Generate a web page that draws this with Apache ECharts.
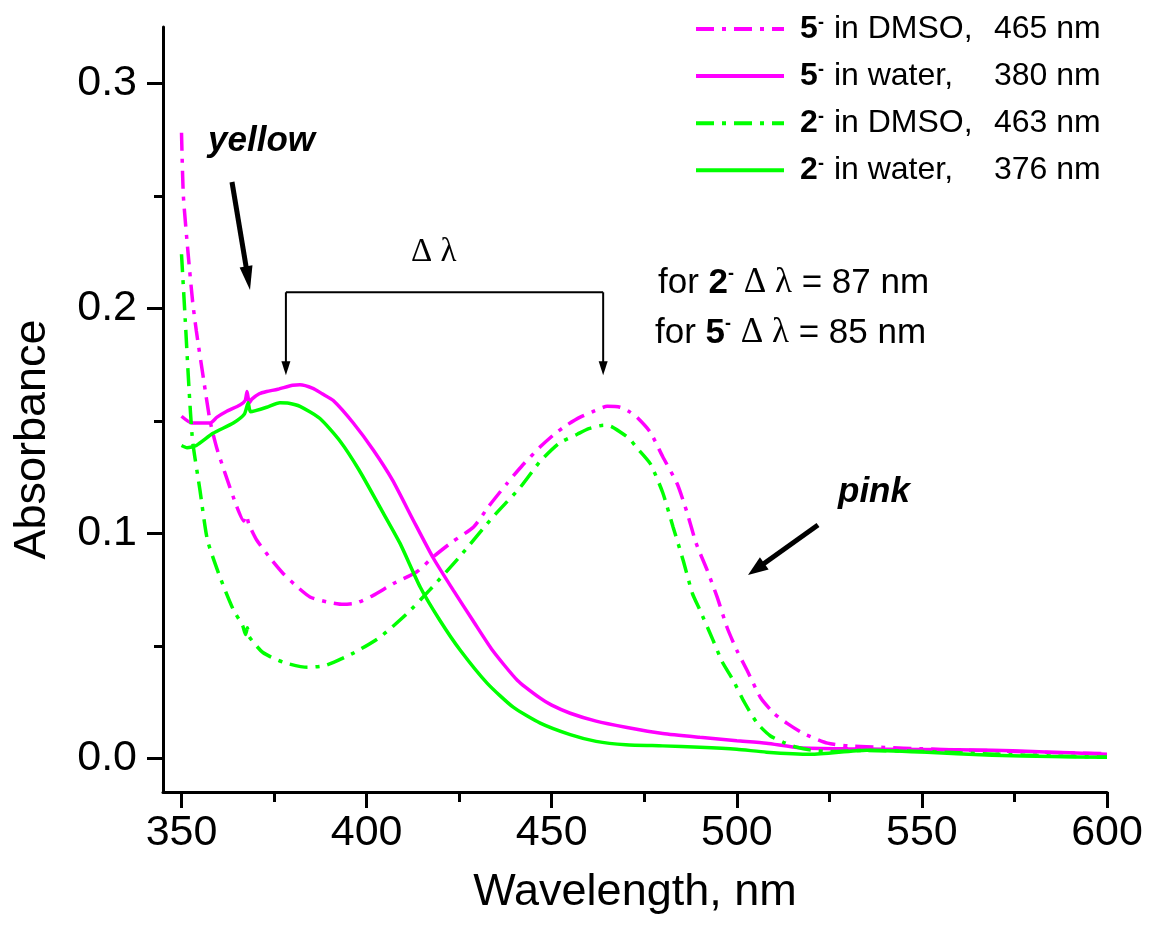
<!DOCTYPE html>
<html><head><meta charset="utf-8">
<script src="https://cdn.jsdelivr.net/npm/echarts@6/dist/echarts.min.js"></script>
<style>html,body{margin:0;padding:0;background:#fff}#c{width:1149px;height:935px}</style>
</head><body><div id="c"></div>
<script>
// ---------------- data ----------------
const seriesNames = ['5- in DMSO', '5- in water', '2- in DMSO', '2- in water'];
const legendCompound = ['5', '5', '2', '2'];
const legendSolvent = [' in DMSO,', ' in water,', ' in DMSO,', ' in water,'];
const legendPeak = ['465 nm', '380 nm', '463 nm', '376 nm'];

const wl5DMSO = [350,350.5,351.8,353,354,356,357.7,359.5,361.8,364.9,366.8,367.5,368.2,370.3,374.4,377.5,380.7,384.7,389.2,393.7,397.3,401.8,407.2,413.5,418,423,428.9,433,437.9,442,446.9,450.4,454,457.7,461,465,468.5,471,473,476.6,480,483.9,486.6,489,492,494.7,497.4,500,502.8,506.4,510,513.6,518,524.5,530,540,550,560,570,580,590,600];
const abs5DMSO = [0.278,0.250,0.224,0.203,0.190,0.168,0.150,0.138,0.1265,0.112,0.1055,0.108,0.104,0.097,0.088,0.082,0.077,0.0717,0.0695,0.0684,0.069,0.0724,0.0776,0.0828,0.0895,0.096,0.1028,0.112,0.1221,0.130,0.1384,0.1436,0.148,0.1516,0.154,0.1564,0.156,0.154,0.1516,0.145,0.134,0.122,0.109,0.0956,0.0836,0.0716,0.058,0.048,0.039,0.027,0.020,0.0155,0.011,0.0067,0.0055,0.0048,0.0042,0.0037,0.0033,0.0028,0.0024,0.002];

const wl5Water = [350,352.8,357.7,359.6,362,365.8,367.2,367.7,368.3,369,371,373,376,380,382,385.5,388,391,396.4,401.8,407,412.6,418,423.4,428.8,434,440.7,446.9,450,455,462,470,480,490,500,508,517,530,550,569,580,590,600];
const abs5Water = [0.152,0.149,0.149,0.1516,0.154,0.157,0.159,0.163,0.158,0.1596,0.162,0.163,0.164,0.1658,0.166,0.1644,0.162,0.159,0.149,0.137,0.1236,0.1058,0.089,0.0747,0.061,0.048,0.0347,0.0267,0.0236,0.020,0.0165,0.0138,0.011,0.0093,0.0078,0.0067,0.0047,0.0042,0.0039,0.0036,0.003,0.0024,0.0018];

const wl2DMSO = [350,351,352,353,355,357,360.4,364,366.5,367.3,367.8,368.3,372,377.4,384,389,396.4,403.6,411,417,425,434,441.5,446.9,452,456.9,460,464,466,468.5,471,473,476.6,480,482.8,485.5,488,490,493.6,496,499,502,505.5,509,512.6,516,520,525,535,550,570,585,600];
const abs2DMSO = [0.224,0.195,0.165,0.141,0.119,0.097,0.0805,0.066,0.059,0.055,0.058,0.054,0.047,0.0427,0.0404,0.0413,0.0467,0.0538,0.0644,0.0747,0.0893,0.107,0.1204,0.132,0.140,0.144,0.1465,0.148,0.1475,0.145,0.142,0.138,0.131,0.118,0.1027,0.088,0.0733,0.066,0.0524,0.043,0.0347,0.025,0.0156,0.010,0.0071,0.005,0.0036,0.003,0.0035,0.003,0.0018,0.001,0.0005];

const wl2Water = [350,351.5,354,358.5,364,367,368,368.6,370,373,376.6,379,382,387.4,392.8,398,403.6,409,414.5,419.9,425.3,432.6,439.6,446.9,455,462,470,480,490,500,508,520,535,550,569,585,600];
const abs2Water = [0.139,0.138,0.139,0.1444,0.149,0.153,0.158,0.154,0.1545,0.156,0.158,0.1578,0.1564,0.151,0.141,0.128,0.1116,0.0956,0.076,0.061,0.048,0.0333,0.0227,0.0156,0.0105,0.0075,0.006,0.0055,0.0049,0.004,0.0027,0.0018,0.0036,0.0028,0.0013,0.0008,0.0004];

const xMajorTicks = [350, 400, 450, 500, 550, 600];
const xMinorTicks = [375, 425, 475, 525, 575];
const yMajorTicks = [0, 0.1, 0.2, 0.3];
const yMinorTicks = [0.05, 0.15, 0.25];
const yLabels = ['0.0', '0.1', '0.2', '0.3'];

// ------------- chart -------------
const zip = (a, b) => a.map((v, i) => [v, b[i]]);
const MAG = '#ff00ff', GRN = '#00ff00';
const dashDot = [18, 8, 4, 8];
const FONT = 'Liberation Sans';

const chart = echarts.init(document.getElementById('c'), null, { renderer: 'canvas' });

const axisLineStyle = { color: '#000', width: 3 };
const baseX = { type: 'value', min: 345, max: 600, splitLine: { show: false } };
const baseY = { type: 'value', min: -0.015, max: 0.325, splitLine: { show: false } };

const option = {
  animation: false,
  backgroundColor: '#fff',
  grid: { left: 163, right: 42, top: 27, bottom: 143, containLabel: false },
  xAxis: [
    Object.assign({}, baseX, {
      position: 'bottom',
      axisLine: { show: true, onZero: false, lineStyle: axisLineStyle },
      axisTick: { show: true, length: 16, customValues: xMajorTicks, lineStyle: axisLineStyle },
      axisLabel: { customValues: xMajorTicks, fontSize: 43, fontFamily: FONT, color: '#000', margin: 20 },
      name: 'Wavelength, nm', nameLocation: 'middle', nameGap: 78,
      nameTextStyle: { fontSize: 45, fontFamily: FONT, color: '#000' }
    }),
    Object.assign({}, baseX, {
      position: 'bottom',
      axisLine: { show: false, onZero: false },
      axisTick: { show: true, length: 10, customValues: xMinorTicks, lineStyle: axisLineStyle },
      axisLabel: { show: false }
    })
  ],
  yAxis: [
    Object.assign({}, baseY, {
      position: 'left',
      axisLine: { show: true, onZero: false, lineStyle: axisLineStyle },
      axisTick: { show: true, length: 16, customValues: yMajorTicks, lineStyle: axisLineStyle },
      axisLabel: { customValues: yMajorTicks, fontSize: 43, fontFamily: FONT, color: '#000', margin: 26,
        formatter: v => yLabels[yMajorTicks.findIndex(t => Math.abs(t - v) < 1e-9)] || v.toFixed(1) },
      name: 'Absorbance', nameLocation: 'middle', nameGap: 108, nameRotate: 90,
      nameTextStyle: { fontSize: 45, fontFamily: FONT, color: '#000', padding: [0, 60, 0, 0] }
    }),
    Object.assign({}, baseY, {
      position: 'left',
      axisLine: { show: false, onZero: false },
      axisTick: { show: true, length: 9, customValues: yMinorTicks, lineStyle: axisLineStyle },
      axisLabel: { show: false }
    })
  ],
  legend: {
    orient: 'vertical', left: 694, top: 13, padding: 0,
    itemWidth: 88, itemHeight: 14, itemGap: 15.1,
    lineStyle: { width: 4 },
    itemStyle: { opacity: 0 },
    formatter: name => {
      const i = seriesNames.indexOf(name);
      return '{g| }{b|' + legendCompound[i] + '}{s|-}{t|' + legendSolvent[i] + '}{n|' + legendPeak[i] + '}';
    },
    textStyle: {
      fontFamily: FONT, fontSize: 32, color: '#000', lineHeight: 30,
      rich: {
        g: { width: 11, fontSize: 32, fontFamily: FONT },
        b: { width: 18, fontSize: 32, fontWeight: 'bold', fontFamily: FONT, color: '#000' },
        s: { width: 7, fontSize: 18, fontWeight: 'bold', fontFamily: FONT, color: '#000', verticalAlign: 'top', lineHeight: 18 },
        t: { width: 169, fontSize: 32, fontFamily: FONT, color: '#000' },
        n: { fontSize: 32, fontFamily: FONT, color: '#000' }
      }
    },
    data: seriesNames
  },
  series: [
    { name: seriesNames[0], type: 'line', data: zip(wl5DMSO, abs5DMSO), showSymbol: false, symbol: 'none', smooth: 0.2,
      lineStyle: { color: MAG, width: 3.5, type: dashDot }, itemStyle: { color: MAG } },
    { name: seriesNames[1], type: 'line', data: zip(wl5Water, abs5Water), showSymbol: false, symbol: 'none', smooth: 0.2,
      lineStyle: { color: MAG, width: 3.5, type: 'solid' }, itemStyle: { color: MAG } },
    { name: seriesNames[2], type: 'line', data: zip(wl2DMSO, abs2DMSO), showSymbol: false, symbol: 'none', smooth: 0.2,
      lineStyle: { color: GRN, width: 3.5, type: dashDot }, itemStyle: { color: GRN } },
    { name: seriesNames[3], type: 'line', data: zip(wl2Water, abs2Water), showSymbol: false, symbol: 'none', smooth: 0.2,
      lineStyle: { color: GRN, width: 3.5, type: 'solid' }, itemStyle: { color: GRN } }
  ]
};
chart.setOption(option);

// ------------- annotations -------------
function arrow(x1, y1, x2, y2, w, headLen, headW) {
  const dx = x2 - x1, dy = y2 - y1, L = Math.hypot(dx, dy);
  const ux = dx / L, uy = dy / L, px = -uy, py = ux;
  const bx = x2 - ux * headLen, by = y2 - uy * headLen;
  return [
    { type: 'line', shape: { x1: x1, y1: y1, x2: bx + ux * 2, y2: by + uy * 2 }, style: { stroke: '#000', lineWidth: w }, z: 50 },
    { type: 'polygon', shape: { points: [[x2, y2], [bx + px * headW / 2, by + py * headW / 2], [bx - px * headW / 2, by - py * headW / 2]] },
      style: { fill: '#000' }, z: 50 }
  ];
}
const P = (x, y) => chart.convertToPixel({ xAxisIndex: 0, yAxisIndex: 0 }, [x, y]);
const bracketL = P(378.2, 0.2071), bracketR = P(463.9, 0.2071);
const tipL = P(378.2, 0.1702), tipR = P(463.9, 0.1702);

const g = [];
g.push({ type: 'line', shape: { x1: bracketL[0], y1: bracketL[1], x2: bracketR[0], y2: bracketR[1] }, style: { stroke: '#000', lineWidth: 2 }, z: 50 });
g.push(...arrow(bracketL[0], bracketL[1], tipL[0], tipL[1], 2, 14, 9));
g.push(...arrow(bracketR[0], bracketR[1], tipR[0], tipR[1], 2, 14, 9));
g.push(...arrow(232, 182, 250, 290, 5, 24, 13));
g.push(...arrow(818, 525, 748, 575, 5, 20, 15));

g.push({ type: 'text', x: 208, y: 141, z: 50,
  style: { text: 'yellow', font: 'italic bold 35px "Liberation Sans"', fill: '#000', textVerticalAlign: 'middle' } });
g.push({ type: 'text', x: 838, y: 492, z: 50,
  style: { text: 'pink', font: 'italic bold 35px "Liberation Sans"', fill: '#000', textVerticalAlign: 'middle' } });
g.push({ type: 'text', x: 411, y: 252, z: 50,
  style: { text: 'Δ λ', font: '33px "Liberation Serif"', fill: '#000', textVerticalAlign: 'middle' } });

const richFor = {
  a: { fontSize: 35, fontFamily: FONT, color: '#000' },
  b: { fontSize: 35, fontFamily: FONT, fontWeight: 'bold', color: '#000' },
  s: { fontSize: 18, fontFamily: FONT, fontWeight: 'bold', color: '#000', verticalAlign: 'top', lineHeight: 18 },
  d: { fontSize: 35, fontFamily: 'Liberation Serif', color: '#000' }
};
g.push({ type: 'text', x: 658, y: 283, z: 50,
  style: { text: '{a|for }{b|2}{s|-}{a| }{d|Δ λ}{a| = 87 nm}', rich: richFor, textVerticalAlign: 'middle', lineHeight: 36 } });
g.push({ type: 'text', x: 655, y: 333, z: 50,
  style: { text: '{a|for }{b|5}{s|-}{a| }{d|Δ λ}{a| = 85 nm}', rich: richFor, textVerticalAlign: 'middle', lineHeight: 36 } });

chart.setOption({ graphic: g });
</script></body></html>
